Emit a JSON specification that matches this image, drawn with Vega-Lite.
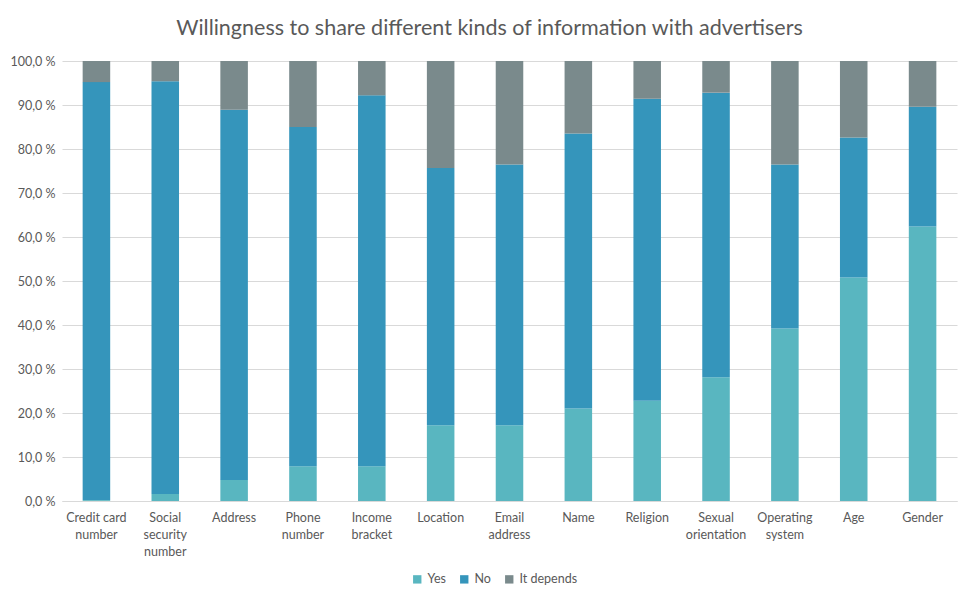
{
  "$schema": "https://vega.github.io/schema/vega-lite/v6.json",
  "autosize": {"type": "none"},
  "width": 895,
  "height": 440,
  "padding": {"left": 62, "top": 61, "right": 9, "bottom": 93},
  "background": "white",
  "title": {
    "text": "Willingness to share different kinds of information with advertisers",
    "font": "Lato",
    "fontSize": 21.5,
    "fontWeight": "normal",
    "color": "#595959",
    "anchor": "middle",
    "dx": -20,
    "offset": 16
  },
  "data": {
    "values": [
      {"info": "Credit\u00a0card number", "type": "Yes", "pct": 0.2},
      {"info": "Credit\u00a0card number", "type": "No", "pct": 95.0},
      {"info": "Credit\u00a0card number", "type": "It depends", "pct": 4.8},
      {"info": "Social security number", "type": "Yes", "pct": 1.6},
      {"info": "Social security number", "type": "No", "pct": 93.8},
      {"info": "Social security number", "type": "It depends", "pct": 4.6},
      {"info": "Address", "type": "Yes", "pct": 4.8},
      {"info": "Address", "type": "No", "pct": 84.1},
      {"info": "Address", "type": "It depends", "pct": 11.1},
      {"info": "Phone number", "type": "Yes", "pct": 7.9},
      {"info": "Phone number", "type": "No", "pct": 77.1},
      {"info": "Phone number", "type": "It depends", "pct": 15.0},
      {"info": "Income bracket", "type": "Yes", "pct": 7.9},
      {"info": "Income bracket", "type": "No", "pct": 84.3},
      {"info": "Income bracket", "type": "It depends", "pct": 7.8},
      {"info": "Location", "type": "Yes", "pct": 17.2},
      {"info": "Location", "type": "No", "pct": 58.5},
      {"info": "Location", "type": "It depends", "pct": 24.3},
      {"info": "Email address", "type": "Yes", "pct": 17.2},
      {"info": "Email address", "type": "No", "pct": 59.3},
      {"info": "Email address", "type": "It depends", "pct": 23.5},
      {"info": "Name", "type": "Yes", "pct": 21.0},
      {"info": "Name", "type": "No", "pct": 62.5},
      {"info": "Name", "type": "It depends", "pct": 16.5},
      {"info": "Religion", "type": "Yes", "pct": 22.8},
      {"info": "Religion", "type": "No", "pct": 68.6},
      {"info": "Religion", "type": "It depends", "pct": 8.6},
      {"info": "Sexual orientation", "type": "Yes", "pct": 28.1},
      {"info": "Sexual orientation", "type": "No", "pct": 64.7},
      {"info": "Sexual orientation", "type": "It depends", "pct": 7.2},
      {"info": "Operating system", "type": "Yes", "pct": 39.2},
      {"info": "Operating system", "type": "No", "pct": 37.3},
      {"info": "Operating system", "type": "It depends", "pct": 23.5},
      {"info": "Age", "type": "Yes", "pct": 50.8},
      {"info": "Age", "type": "No", "pct": 31.8},
      {"info": "Age", "type": "It depends", "pct": 17.4},
      {"info": "Gender", "type": "Yes", "pct": 62.4},
      {"info": "Gender", "type": "No", "pct": 27.2},
      {"info": "Gender", "type": "It depends", "pct": 10.4}
    ]
  },
  "mark": {"type": "bar"},
  "encoding": {
    "x": {
      "field": "info",
      "type": "nominal",
      "sort": null,
      "title": null,
      "scale": {"paddingInner": 0.6, "paddingOuter": 0.3},
      "axis": {
        "labelAngle": 0,
        "labelExpr": "split(datum.value, ' ')",
        "labelFont": "Lato",
        "labelFontSize": 12.5,
        "labelColor": "#595959",
        "labelPadding": 10,
        "labelLineHeight": 17,
        "ticks": false,
        "domainColor": "#D9D9D9",
        "domainWidth": 1,
        "grid": false
      }
    },
    "y": {
      "field": "pct",
      "type": "quantitative",
      "stack": "zero",
      "title": null,
      "scale": {"domain": [0, 100], "nice": false},
      "axis": {
        "values": [0, 10, 20, 30, 40, 50, 60, 70, 80, 90, 100],
        "labelExpr": "replace(format(datum.value, '.1f'), '.', ',') + ' %'",
        "labelFont": "Lato",
        "labelFontSize": 12.5,
        "labelColor": "#595959",
        "labelPadding": 7,
        "ticks": false,
        "domain": false,
        "gridColor": "#D9D9D9",
        "gridWidth": 1
      }
    },
    "color": {
      "field": "type",
      "type": "nominal",
      "title": null,
      "scale": {
        "domain": ["Yes", "No", "It depends"],
        "range": ["#59B6C0", "#3595BB", "#7A8A8C"]
      },
      "legend": {
        "orient": "none",
        "legendX": 349,
        "legendY": 512,
        "direction": "horizontal",
        "symbolType": "square",
        "symbolSize": 70,
        "symbolStrokeWidth": 0,
        "labelFont": "Lato",
        "labelFontSize": 12.5,
        "labelColor": "#595959",
        "columnPadding": 12,
        "labelOffset": 4
      }
    },
    "order": {"field": "type", "sort": "descending"}
  },
  "config": {
    "view": {"stroke": null}
  }
}
